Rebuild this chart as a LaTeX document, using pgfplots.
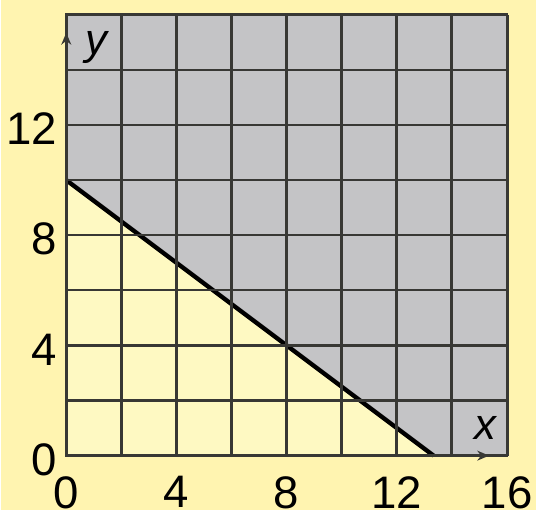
\documentclass[border=0pt]{standalone}
\usepackage{fontspec}
\setmainfont{Liberation Sans}
\usepackage{pgfplots}
\pgfplotsset{compat=1.18}
\usetikzlibrary{arrows.meta}
\definecolor{bgyellow}{HTML}{FFF4B0}
\definecolor{inyellow}{HTML}{FEF9C2}
\definecolor{shade}{HTML}{C4C4C6}
\definecolor{gridc}{HTML}{383834}
\begin{document}
\begin{tikzpicture}
\fill[bgyellow] (-33pt,-27.5pt) rectangle (237pt,230pt);
\begin{axis}[
  axis on top,
  scale only axis,
  width=222.5pt, height=222.5pt,
  at={(0,0)}, anchor=south west,
  xmin=0, xmax=16, ymin=0, ymax=16,
  xtick={0,4,8,12,16}, ytick={0,4,8,12},
  minor xtick={2,6,10,14}, minor ytick={2,6,10,14},
  grid=both,
  every axis x grid/.style={gridc, line width=1.5pt},
  every axis y grid/.style={gridc, line width=1.1pt},
  major tick length=0pt, minor tick length=0pt,
  axis line style={gridc, line width=1.4pt},
  axis background/.style={fill=inyellow},
  /pgf/number format/assume math mode=true,
  tick label style={font=\fontsize{23}{25}\selectfont},
  xticklabel style={yshift=-7pt},
  yticklabel style={xshift=-1pt, yshift=-2pt},
  clip=false,
]
\addplot[fill=shade, draw=none] coordinates {(0,10) (13.333,0) (16,0) (16,16) (0,16)} --cycle;
\addplot[black, line width=2.2pt] coordinates {(0,10) (13.333,0)};
\draw[gridc, line width=1.4pt, -{Stealth[length=6pt,width=5pt]}] (axis cs:0,0) -- (axis cs:15.35,0);
\draw[gridc, line width=1.4pt, -{Stealth[length=6pt,width=5pt]}] (axis cs:0,0) -- (axis cs:0,15.35);
\node[font=\itshape\fontsize{22}{24}\selectfont] at (axis cs:15.2,1.0) {x};
\node[font=\itshape\fontsize{22}{24}\selectfont] at (axis cs:1.1,14.8) {y};
\end{axis}
\end{tikzpicture}
\end{document}
